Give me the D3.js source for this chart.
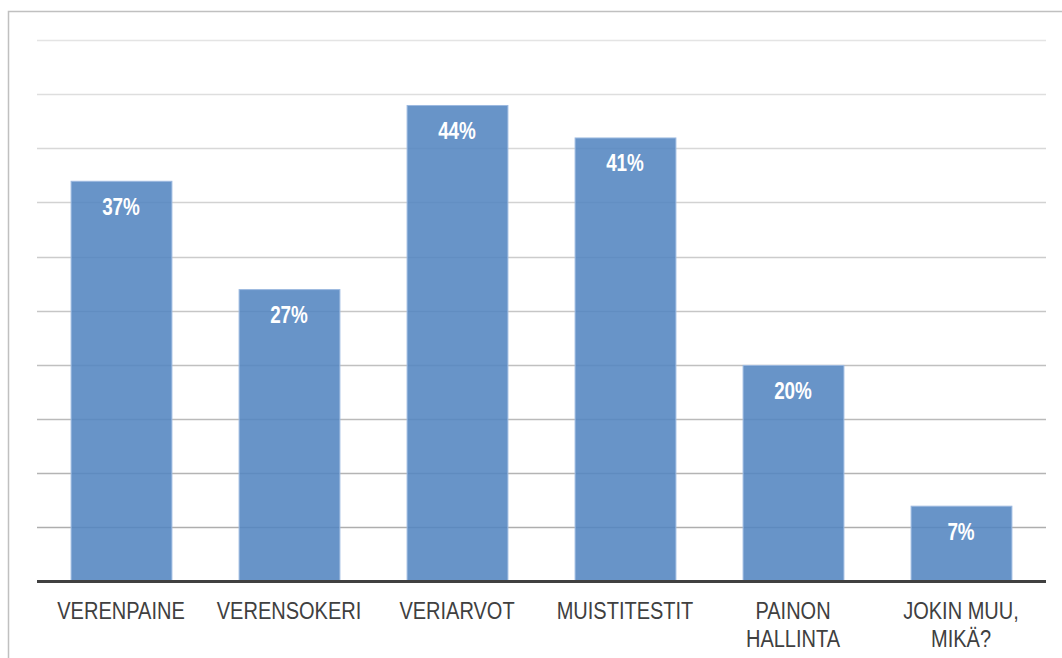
<!DOCTYPE html>
<html>
<head>
  <meta charset="utf-8">
  <title>Mittaukset</title>
  <script src="https://d3js.org/d3.v7.min.js"></script>
</head>
<style>
  body {
    margin: 0;
    background: #fff;
    font-family: "Liberation Sans", Arial, sans-serif;
  }
  .x-axis text {
    font-size: 23px;
    fill: #404040;
  }
  .value {
    font-size: 23px;
    font-weight: bold;
    fill: #fff;
  }
</style>
<body>
  <svg id="chart"></svg>
  <script>
    // data
    const categories = ["VERENPAINE", "VERENSOKERI", "VERIARVOT", "MUISTITESTIT", "PAINON HALLINTA", "JOKIN MUU, MIKÄ?"];
    const values = [37, 27, 44, 41, 20, 7];
    const labelLines = [["VERENPAINE"], ["VERENSOKERI"], ["VERIARVOT"], ["MUISTITESTIT"], ["PAINON", "HALLINTA"], ["JOKIN MUU,", "MIKÄ?"]];
    const gridTicks = [5, 10, 15, 20, 25, 30, 35, 40, 45, 50];

    const W = 1062, H = 658;
    // no Arial Narrow here, squeeze Liberation Sans instead
    const narrowValue = 0.82;
    const narrowLabel = 0.87;
    const svg = d3.select("#chart")
      .attr("width", W)
      .attr("height", H);

    // outer frame of the chart area
    svg.append("rect")
      .attr("x", 8.5)
      .attr("y", 11.5)
      .attr("width", W)
      .attr("height", H)
      .attr("fill", "none")
      .attr("stroke", "#c0c0c0")
      .attr("stroke-width", 1.5);

    const x = d3.scaleBand()
      .domain(categories)
      .range([37, 1045])
      .paddingInner(0.4)
      .paddingOuter(0.2);

    const y = d3.scaleLinear()
      .domain([0, 50])
      .range([581.5, 40]);

    // gridlines get darker towards the bottom
    const gridColor = d3.scaleLinear().domain([50, 5]).range(["#e4e4e4", "#aeaeae"]);
    svg.selectAll(".grid")
      .data(gridTicks)
      .join("line")
      .attr("class", "grid")
      .attr("x1", 37)
      .attr("x2", 1046)
      .attr("y1", d => Math.round(y(d)) + 0.5)
      .attr("y2", d => Math.round(y(d)) + 0.5)
      .attr("stroke", d => gridColor(d))
      .attr("stroke-width", 1.3);

    // bars, a little see-through so the grid shows faintly
    svg.selectAll(".bar")
      .data(values)
      .join("rect")
      .attr("class", "bar")
      .attr("x", (d, i) => x(categories[i]) + 0.5)
      .attr("y", d => y(d) + 0.5)
      .attr("width", x.bandwidth())
      .attr("height", d => y(0) - y(d))
      .attr("fill", "#5385c0")
      .attr("fill-opacity", 0.88)
      .attr("stroke", "#9cb9e0")
      .attr("stroke-width", 1);

    // baseline
    svg.append("line")
      .attr("x1", 37)
      .attr("x2", 1046)
      .attr("y1", y(0))
      .attr("y2", y(0))
      .attr("stroke", "#404040")
      .attr("stroke-width", 3);

    // value labels
    svg.selectAll(".value")
      .data(values)
      .join("text")
      .attr("class", "value")
      .attr("transform", (d, i) => `translate(${x(categories[i]) + x.bandwidth() / 2},${y(d) + 34}) scale(${narrowValue},1)`)
      .attr("text-anchor", "middle")
      .text(d => d + "%");

    // category labels
    const xAxis = svg.append("g").attr("class", "x-axis");
    xAxis.selectAll("text")
      .data(categories)
      .join("text")
      .attr("transform", d => `translate(${x(d) + x.bandwidth() / 2},619) scale(${narrowLabel},1)`)
      .attr("text-anchor", "middle")
      .each(function(d, i) {
        d3.select(this).selectAll("tspan")
          .data(labelLines[i])
          .join("tspan")
          .attr("x", 0)
          .attr("dy", (t, j) => j === 0 ? 0 : 28)
          .text(t => t);
      });
  </script>
</body>
</html>
